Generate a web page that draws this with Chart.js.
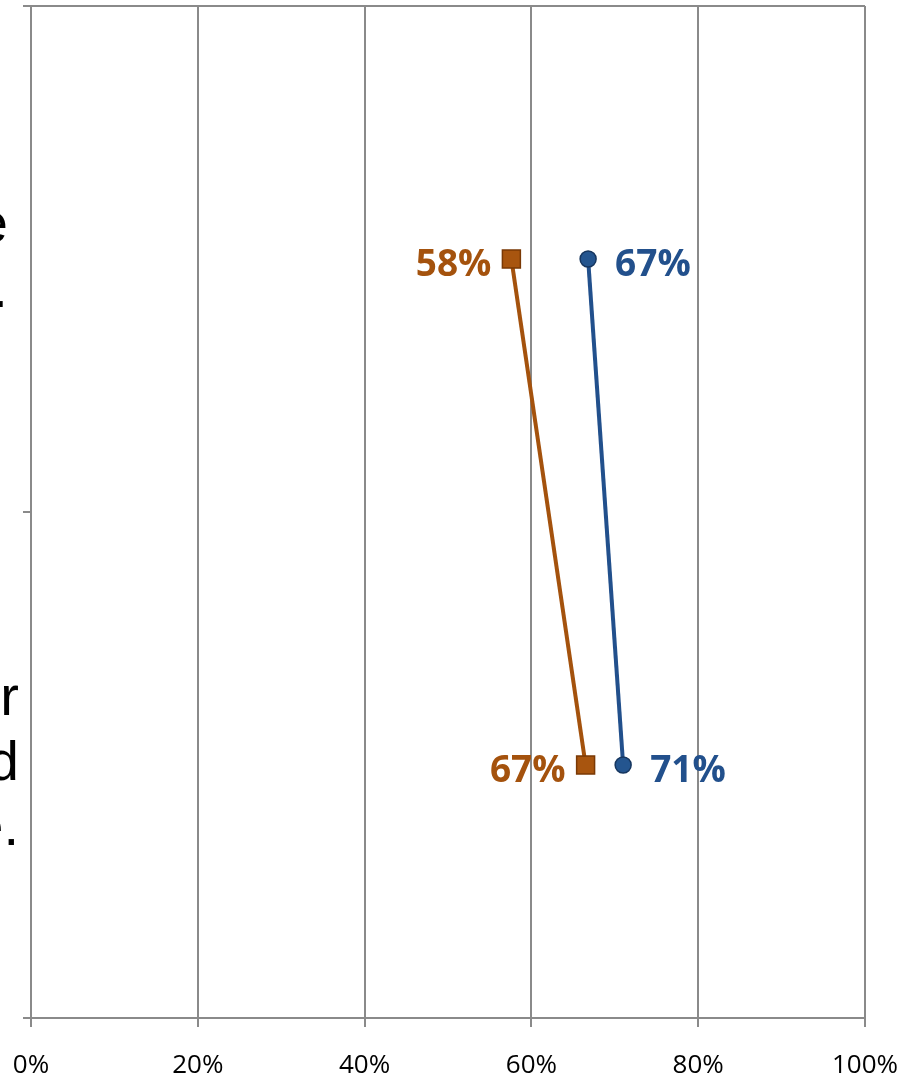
<!DOCTYPE html>
<html>
<head>
<meta charset="utf-8">
<script src="https://cdn.jsdelivr.net/npm/chart.js@4.4.1/dist/chart.umd.min.js"></script>
<style>
    html, body { margin: 0; padding: 0; background: #fff; overflow: hidden; }
    /* the category labels run off the left edge in the original, so the canvas starts off-screen */
    #wrap { position: absolute; left: -1200px; top: 0; width: 2122px; height: 1074px; }
</style>
</head>
<body>
<div id="wrap"><canvas id="chart" width="2122" height="1074"></canvas></div>
<script>
// categories (top to bottom), wrapped as in the source
const categories = [
    ['Percent satisfied with the\u2009', 'way things are going.\u2009'],
    ['Percent who rate their', 'personal situation as good', 'compared to the last time.']
];

// series values (share, 0..1)
const orangeValues = [0.576, 0.665];
const blueValues = [0.668, 0.71];

// x axis
const xMin = 0;
const xMax = 1;
const xStep = 0.2;

const GRID = '#8a8a8a';
const ORANGE = '#a4520d';
const BLUE = '#22508c';

const valueLabels = {
    id: 'valueLabels',
    afterDatasetsDraw(chart) {
        const ctx = chart.ctx;
        chart.data.datasets.forEach((ds, i) => {
            const meta = chart.getDatasetMeta(i);
            meta.data.forEach((pt, j) => {
                const text = Math.round(ds.data[j] * 100) + '%';
                ctx.save();
                ctx.font = 'bold 37px "Open Sans"';
                ctx.fillStyle = ds.borderColor;
                ctx.textBaseline = 'alphabetic';
                if (ds.labelSide === 'left') {
                    ctx.textAlign = 'right';
                    ctx.fillText(text, pt.x - 20, pt.y + 17);
                } else {
                    ctx.textAlign = 'left';
                    ctx.fillText(text, pt.x + 27, pt.y + 17);
                }
                ctx.restore();
            });
        });
    }
};

new Chart(document.getElementById('chart'), {
    type: 'line',
    data: {
        labels: categories,
        datasets: [{
            label: 'Orange',
            data: orangeValues,
            borderColor: ORANGE,
            backgroundColor: ORANGE,
            borderWidth: 4,
            pointStyle: 'rect',
            pointRadius: 12.7,
            pointBackgroundColor: '#a8550f',
            pointBorderColor: '#7a3905',
            pointBorderWidth: 1.5,
            labelSide: 'left'
        }, {
            label: 'Blue',
            data: blueValues,
            borderColor: BLUE,
            backgroundColor: BLUE,
            borderWidth: 4,
            pointStyle: 'circle',
            pointRadius: 8,
            pointBackgroundColor: '#24558f',
            pointBorderColor: '#16365f',
            pointBorderWidth: 1.5,
            labelSide: 'right'
        }]
    },
    options: {
        indexAxis: 'y',
        responsive: false,
        animation: false,
        layout: { autoPadding: false, padding: { top: 6, right: 57, left: 0, bottom: 0 } },
        plugins: {
            legend: { display: false },
            tooltip: { enabled: false }
        },
        scales: {
            x: {
                type: 'linear',
                min: xMin,
                max: xMax,
                afterFit(scale) { scale.height = 56; },
                grid: { color: GRID, lineWidth: 2, tickLength: 9, tickColor: GRID },
                border: { color: GRID, width: 2 },
                ticks: {
                    stepSize: xStep,
                    padding: 23,
                    color: '#000',
                    font: { family: '"Open Sans"', size: 26 },
                    callback: v => Math.round(v * 100) + '%'
                }
            },
            y: {
                type: 'category',
                offset: true,
                afterFit(scale) {
                    scale.width = 1231;
                    scale.paddingTop = 0;
                    scale.paddingBottom = 0;
                },
                grid: {
                    offset: true,
                    lineWidth: 2,
                    tickLength: 8,
                    tickColor: GRID,
                    color: c => c.index === 0 ? GRID : 'rgba(0,0,0,0)'
                },
                border: { color: GRID, width: 2 },
                ticks: {
                    padding: 4,
                    crossAlign: 'near',
                    color: '#000',
                    font: { family: '"Liberation Sans"', size: 56, lineHeight: 65 / 56 }
                }
            }
        }
    },
    plugins: [valueLabels]
});
</script>
</body>
</html>
